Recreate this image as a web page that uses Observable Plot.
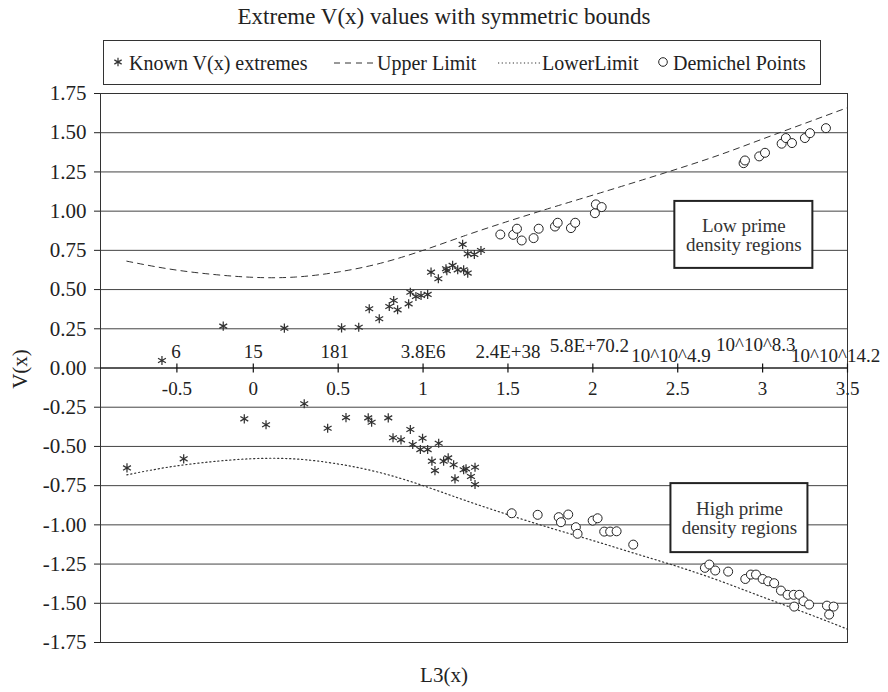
<!DOCTYPE html>
<html>
<head>
<meta charset="utf-8">
<script src="https://cdn.jsdelivr.net/npm/d3@7"></script>
<script src="https://cdn.jsdelivr.net/npm/@observablehq/plot@0.6"></script>
<style>
  html, body { margin: 0; padding: 0; background: #fff; }
  #wrap { position: relative; width: 888px; height: 692px; font-family: "Liberation Serif", "DejaVu Serif", serif; color: #222; }
  #chart { position: absolute; left: 0; top: 0; }
  .ov { position: absolute; white-space: nowrap; line-height: 1; }
  #title { left: 0; width: 888px; top: 5px; text-align: center; font-size: 23px; }
  #legend { left: 103px; top: 40px; width: 718px; height: 45px; border: 1px solid #333; box-sizing: border-box; background: #fff; }
  .lg { position: absolute; top: 12px; font-size: 20px; }
  #xlabel { left: 0; width: 888px; top: 665px; text-align: center; font-size: 21px; }
  #ylabel { left: 20px; top: 369px; font-size: 21px; transform: translate(-50%, -50%) rotate(-90deg); }
</style>
</head>
<body>
<div id="wrap">
  <div id="chart"></div>
  <div id="title" class="ov">Extreme V(x) values with symmetric bounds</div>
  <div id="legend" class="ov"></div>
  <div id="xlabel" class="ov">L3(x)</div>
  <div id="ylabel" class="ov">V(x)</div>
</div>
<script>
// ---------- data ----------
const knownX = [-0.538,-0.177,0.183,0.52,0.621,0.742,0.683,0.801,0.827,0.85,0.915,0.925,0.958,0.988,1.027,1.047,1.09,1.135,1.14,1.174,1.204,1.239,1.263,1.233,1.263,1.302,1.341,
  -0.744,-0.41,-0.053,0.075,0.3,0.438,0.546,0.677,0.697,0.795,0.823,0.87,0.925,0.939,0.984,0.997,1.027,1.092,1.052,1.07,1.121,1.148,1.18,1.188,1.239,1.253,1.306,1.282,1.306];
const knownY = [0.048,0.267,0.254,0.256,0.26,0.314,0.378,0.392,0.43,0.371,0.409,0.483,0.456,0.462,0.469,0.611,0.569,0.633,0.62,0.654,0.626,0.626,0.605,0.788,0.728,0.724,0.749,
  -0.637,-0.579,-0.324,-0.362,-0.228,-0.384,-0.316,-0.318,-0.346,-0.318,-0.445,-0.458,-0.392,-0.488,-0.52,-0.448,-0.52,-0.48,-0.594,-0.654,-0.594,-0.573,-0.617,-0.707,-0.649,-0.643,-0.633,-0.692,-0.743];

const demichelX = [1.455,1.531,1.553,1.581,1.651,1.681,1.777,1.793,1.871,1.896,2.012,2.018,2.052,2.888,2.896,2.98,3.014,3.112,3.137,3.173,3.249,3.279,3.373,
  1.522,1.675,1.799,1.812,1.855,1.9,1.91,1.999,2.028,2.067,2.102,2.14,2.238,2.66,2.686,2.721,2.797,2.898,2.931,2.961,3.0,3.033,3.068,3.108,3.147,3.183,3.216,3.186,3.241,3.274,3.379,3.418,3.392];
const demichelY = [0.851,0.849,0.888,0.813,0.828,0.888,0.902,0.926,0.892,0.926,0.987,1.043,1.026,1.306,1.323,1.349,1.372,1.43,1.466,1.434,1.466,1.497,1.529,
  -0.926,-0.936,-0.951,-0.983,-0.934,-1.015,-1.057,-0.973,-0.958,-1.043,-1.043,-1.041,-1.126,-1.274,-1.253,-1.291,-1.298,-1.345,-1.317,-1.317,-1.345,-1.36,-1.372,-1.419,-1.446,-1.446,-1.446,-1.521,-1.487,-1.508,-1.515,-1.521,-1.572];

const limitX = [-0.745,-0.5,-0.25,0,0.25,0.5,0.75,1,1.25,1.5,1.75,2,2.25,2.5,2.75,3,3.25,3.5];
const upperY = [0.681,0.632,0.598,0.578,0.58,0.612,0.668,0.75,0.845,0.935,1.02,1.102,1.185,1.27,1.36,1.46,1.56,1.66];
const lowerY = [-0.681,-0.632,-0.598,-0.578,-0.58,-0.612,-0.668,-0.75,-0.845,-0.935,-1.02,-1.1,-1.183,-1.266,-1.358,-1.46,-1.56,-1.665];

const tickPos = [-0.45,0,0.5,1,1.5,2,2.5,3,3.5];
const tickLabels = ["-0.5","0","0.5","1","1.5","2","2.5","3","3.5"];
const topLabels = ["6","15","181","3.8E6","2.4E+38","5.8E+70.2","10^10^4.9","10^10^8.3","10^10^14.2"];
const topLabelX = [-0.455,0,0.48,1.0,1.5,1.98,2.46,2.96,3.43];
const topLabelY = [0.105,0.105,0.105,0.1,0.1,0.143,0.08,0.15,0.08];
const yTicks = [-1.75,-1.5,-1.25,-1,-0.75,-0.5,-0.25,0,0.25,0.5,0.75,1,1.25,1.5,1.75];

const noteLines = [["Low prime","density regions"],["High prime","density regions"]];
const noteX1 = [2.483, 2.46], noteX2 = [3.296, 3.267];
const noteY1 = [0.635, -1.177], noteY2 = [1.062, -0.737];

// ---------- build ----------
const known = knownX.map((x, i) => ({x, y: knownY[i]}));
const demichel = demichelX.map((x, i) => ({x, y: demichelY[i]}));
const upper = limitX.map((x, i) => ({x, y: upperY[i]}));
const lower = limitX.map((x, i) => ({x, y: lowerY[i]}));
const ticks = tickPos.map((x, i) => ({x, label: tickLabels[i]}));
const tops = topLabels.map((t, i) => ({x: topLabelX[i], y: topLabelY[i], t}));
const notes = noteLines.map((l, i) => ({x1: noteX1[i], x2: noteX2[i], y1: noteY1[i], y2: noteY2[i], xm: (noteX1[i] + noteX2[i]) / 2, ym: (noteY1[i] + noteY2[i]) / 2, text: l.join("\n")}));

const vTick = { draw(ctx, size) { ctx.moveTo(0, -4.5); ctx.lineTo(0, 4.5); } };
const font = "Liberation Serif";

const chart = Plot.plot({
  width: 888, height: 692,
  marginLeft: 100, marginRight: 41, marginTop: 93, marginBottom: 50,
  style: { fontFamily: font, fontSize: "21px", color: "#222", background: "white" },
  x: { domain: [-0.9, 3.5], axis: null },
  y: { domain: [-1.75, 1.75], ticks: yTicks, tickFormat: d => d.toFixed(2), tickSize: 6, tickPadding: 8, label: null },
  marks: [
    Plot.ruleY(yTicks, { stroke: "#444", strokeWidth: 1 }),
    Plot.frame({ stroke: "#333" }),
    Plot.ruleY([0], { stroke: "#111", strokeWidth: 1.2 }),
    Plot.dot(ticks, { x: "x", y: () => 0, symbol: vTick, stroke: "#111", strokeWidth: 1.2, r: 3 }),
    Plot.text(ticks, { x: "x", y: () => 0, text: "label", dy: 21, fontSize: 19, fill: "#222" }),
    Plot.text(tops, { x: "x", y: "y", text: "t", fontSize: 19, fill: "#222" }),
    Plot.line(upper, { x: "x", y: "y", curve: "natural", stroke: "#333", strokeWidth: 1, strokeDasharray: "6,5" }),
    Plot.line(lower, { x: "x", y: "y", curve: "natural", stroke: "#333", strokeWidth: 1.2, strokeDasharray: "1.2,2.8" }),
    Plot.dot(known, { x: "x", y: "y", symbol: "asterisk", r: 4.3, stroke: "#333", strokeWidth: 1.25 }),
    Plot.dot(demichel, { x: "x", y: "y", symbol: "circle", r: 4.5, stroke: "#222", fill: "white", strokeWidth: 1 }),
    Plot.rect(notes, { x1: "x1", x2: "x2", y1: "y1", y2: "y2", fill: "white", stroke: "#222", strokeWidth: 2 }),
    Plot.text(notes, { x: "xm", y: "ym", text: "text", fontSize: 19, lineHeight: 1, fill: "#333" })
  ]
});
document.getElementById("chart").appendChild(chart);

// ---------- legend ----------
const legendItems = [
  { kind: "star", sx: 14, tx: 25, text: "Known V(x) extremes" },
  { kind: "dash", sx: 230, sw: 42, tx: 273, text: "Upper Limit" },
  { kind: "dot", sx: 394, sw: 44, tx: 438, text: "LowerLimit" },
  { kind: "circle", sx: 559, tx: 569, text: "Demichel Points" }
];
const legend = document.getElementById("legend");
for (const it of legendItems) {
  const w = it.sw || 14;
  const svg = d3.create("svg").attr("width", w + 4).attr("height", 14)
    .style("position", "absolute").style("left", (it.sx - (it.sw ? 0 : 7)) + "px").style("top", "14px");
  if (it.kind === "star") {
    svg.append("path").attr("transform", "translate(7,7)").attr("d", d3.symbol(d3.symbolAsterisk, 50)()).attr("stroke", "#333").attr("stroke-width", 1.2).attr("fill", "none");
  } else if (it.kind === "circle") {
    svg.append("circle").attr("cx", 7).attr("cy", 7).attr("r", 4.3).attr("stroke", "#222").attr("fill", "white");
  } else {
    svg.append("line").attr("x1", 0).attr("x2", w).attr("y1", 8).attr("y2", 8).attr("stroke", "#333")
      .attr("stroke-width", it.kind === "dot" ? 1.2 : 1).attr("stroke-dasharray", it.kind === "dot" ? "1.2,2.5" : "6,5");
  }
  legend.appendChild(svg.node());
  const t = document.createElement("div");
  t.className = "lg"; t.style.left = it.tx + "px"; t.textContent = it.text;
  legend.appendChild(t);
}
</script>
</body>
</html>
